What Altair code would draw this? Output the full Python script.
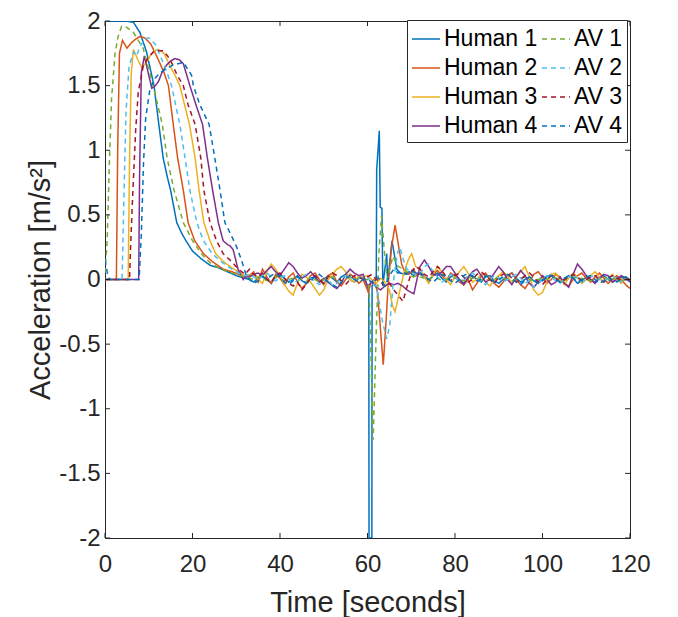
import altair as alt
import pandas as pd

# ---------------- data ----------------
X_TICKS = [0, 20, 40, 60, 80, 100, 120]
Y_TICKS = [-2, -1.5, -1, -0.5, 0, 0.5, 1, 1.5, 2]

T_N1 = list(range(33, 60))    # 33..59 s
T_N2 = list(range(72, 121))   # 72..120 s

# --- Human 1 ---
H1_lt = [0, 4.5, 6.5, 8, 9.5, 11.2, 12.3, 13.3, 14.2, 15.0, 16.4, 17.5, 18.5, 20, 22, 24, 26, 28, 30, 32]
H1_la = [2.0, 2.0, 1.99, 1.91, 1.76, 1.5, 1.2, 0.94, 0.8, 0.69, 0.44, 0.36, 0.3, 0.22, 0.16, 0.11, 0.09, 0.06, 0.03, 0.01]
H1_n1 = [0.0, -0.02, 0.01, 0.03, 0.0, -0.03, 0.02, 0.04, 0.01, -0.02, 0.0, 0.03, -0.01, -0.03, 0.01, 0.02, -0.02, 0.0, 0.03, 0.01, -0.02, 0.02, 0.04, 0.0, -0.02, 0.01, 0.02]
H1_dt = [60.0, 60.3, 60.35, 61.0, 61.05, 61.5, 62.0, 62.1, 62.7, 62.9, 63.3, 63.5, 64.4, 64.6, 65.6, 66.7, 67.5, 68.5, 69.5, 70.5, 71.2]
H1_da = [-0.05, -0.1, -2.0, -2.0, -0.05, -0.02, 0.0, 0.85, 1.15, 0.56, 0.55, -0.05, 0.2, -0.02, 0.3, 0.08, 0.05, 0.04, 0.06, 0.03, 0.05]
H1_n2 = [0.04, 0.02, 0.0, 0.03, 0.05, 0.01, -0.02, 0.02, 0.04, 0.0,
         -0.03, 0.01, 0.03, 0.0, -0.02, 0.02, 0.03, -0.01, -0.03, 0.0,
         0.03, 0.05, 0.01, -0.02, 0.0, 0.02, -0.01, -0.03, 0.0, 0.02,
         0.04, 0.01, -0.02, 0.0, 0.03, 0.01, -0.03, -0.01, 0.02, 0.0,
         -0.02, 0.01, 0.03, 0.0, -0.02, 0.01, 0.02, 0.0, -0.01]

# --- AV 1 ---
AV1_lt = [0, 0.5, 1.0, 1.5, 2.3, 3.0, 3.8, 5.0, 6.5, 8.7, 11.0, 13.1, 14.2, 15.8, 17.9, 20, 22, 24, 26, 28, 30, 32]
AV1_la = [0.05, 0.3, 0.9, 1.4, 1.75, 1.88, 1.96, 1.95, 1.91, 1.79, 1.5, 1.2, 0.94, 0.69, 0.44, 0.3, 0.2, 0.13, 0.09, 0.06, 0.04, 0.02]
AV1_n1 = [0.01, 0.0, 0.02, 0.01, -0.01, 0.0, 0.02, 0.01, -0.01, 0.0, 0.01, 0.02, 0.0, -0.01, 0.01, 0.0, -0.02, 0.0, 0.01, 0.02, 0.0, -0.01, 0.01, 0.02, 0.0, 0.01, 0.0]
AV1_dt = [60.0, 60.4, 61.3, 62.0, 62.6, 63.2, 63.9, 64.5, 65.8, 67.0, 68.5, 69.5, 70.5, 71.3]
AV1_da = [0.0, -0.1, -1.24, -0.4, 0.2, 0.49, 0.2, 0.0, 0.18, 0.1, 0.08, 0.04, 0.02, 0.03]
AV1_n2 = [0.02, 0.01, 0.0, 0.02, 0.01, -0.01, 0.0, 0.02, 0.01, 0.0,
          -0.01, 0.0, 0.01, 0.02, 0.0, -0.01, 0.01, 0.0, 0.02, 0.01,
          0.0, -0.01, 0.0, 0.01, 0.02, 0.0, -0.01, 0.0, 0.01, 0.0,
          0.02, 0.01, 0.0, -0.01, 0.01, 0.02, 0.0, 0.01, 0.0, -0.01,
          0.0, 0.01, 0.02, 0.0, 0.01, 0.0, -0.01, 0.0, 0.01]

# --- Human 2 ---
H2_lt = [0, 2.6, 2.9, 3.3, 4.0, 5.0, 6.0, 7.0, 8.0, 9.1, 10.5, 12.2, 13.5, 14.5, 15.6, 16.6, 17.9, 19.0, 20.5, 22.5, 24.5, 27, 29, 32]
H2_la = [0, 0, 1.0, 1.75, 1.85, 1.79, 1.83, 1.86, 1.88, 1.87, 1.82, 1.7, 1.6, 1.5, 1.2, 0.94, 0.69, 0.44, 0.3, 0.2, 0.14, 0.08, 0.06, 0.02]
H2_n1 = [0.03, 0.06, -0.02, 0.08, 0.02, -0.03, 0.04, 0.01, -0.04, 0.02, 0.05, -0.02, -0.07, -0.03, 0.03, 0.05, 0.0, -0.04, 0.03, 0.05, -0.02, -0.05, 0.0, 0.04, 0.02, -0.03, 0.0]
H2_dt = [60.2, 60.8, 61.5, 62.3, 63.0, 63.6, 64.2, 64.7, 65.5, 66.3, 67.0, 67.8, 68.5, 69.5, 70.5, 71.3]
H2_da = [-0.1, -0.02, 0.0, -0.1, -0.4, -0.66, -0.35, -0.05, 0.25, 0.42, 0.28, 0.12, 0.06, 0.04, 0.08, 0.03]
H2_n2 = [0.05, 0.02, -0.02, 0.04, 0.07, 0.03, -0.01, 0.05, 0.03, -0.02,
         -0.04, 0.0, -0.08, -0.03, 0.03, 0.05, 0.0, -0.03, -0.06, -0.02,
         0.03, 0.05, 0.0, -0.04, -0.07, -0.02, 0.04, 0.06, 0.02, -0.03,
         0.0, 0.04, 0.02, -0.03, -0.05, 0.0, 0.03, 0.05, 0.01, -0.02,
         0.02, 0.05, 0.01, -0.03, 0.0, 0.03, 0.0, -0.04, -0.07]

# --- AV 2 ---
AV2_lt = [0, 3.9, 4.3, 4.8, 5.5, 6.5, 7.2, 8.0, 9.0, 10.0, 11.5, 13.0, 14.2, 15.2, 17.1, 18.3, 19.4, 21.0, 22.5, 24.5, 26.5, 28.5, 30.5, 32]
AV2_la = [0, 0, 0.6, 1.3, 1.65, 1.76, 1.73, 1.8, 1.86, 1.87, 1.82, 1.7, 1.6, 1.5, 1.2, 0.94, 0.69, 0.44, 0.3, 0.2, 0.14, 0.09, 0.05, 0.03]
AV2_n1 = [0.04, 0.02, 0.0, 0.03, 0.05, 0.02, -0.01, 0.01, 0.03, 0.0, -0.03, -0.01, 0.02, 0.04, 0.01, -0.02, -0.04, -0.02, 0.01, -0.05, -0.03, 0.01, 0.03, 0.02, 0.0, 0.01, 0.02]
AV2_dt = [60.0, 61.0, 62.0, 62.8, 63.4, 64.4, 65.1, 65.8, 66.8, 67.4, 68.2, 69.0, 70.0, 71.0]
AV2_da = [0.02, -0.03, -0.05, -0.2, -0.32, -0.46, -0.35, -0.05, 0.2, 0.25, 0.15, 0.08, 0.06, 0.04]
AV2_n2 = [0.04, 0.1, 0.12, 0.06, 0.02, -0.02, 0.01, 0.04, 0.02, -0.01,
          0.0, 0.03, 0.05, 0.02, -0.02, -0.04, 0.0, 0.03, 0.01, -0.02,
          0.0, 0.02, 0.04, 0.01, -0.03, -0.01, -0.06, -0.03, 0.01, 0.03,
          0.02, -0.01, -0.03, 0.0, 0.02, 0.04, 0.01, -0.02, 0.0, 0.02,
          0.03, 0.0, -0.02, 0.01, 0.03, 0.0, -0.02, 0.01, 0.0]

# --- Human 3 ---
H3_lt = [0, 5.3, 5.6, 6.0, 6.5, 7.5, 8.4, 9.5, 10.5, 11.5, 12.2, 13.5, 14.9, 16.0, 17.1, 19.3, 20.6, 21.5, 22.6, 24, 25.3, 27, 29, 31, 32]
H3_la = [0, 0, 0.9, 1.6, 1.78, 1.7, 1.64, 1.68, 1.74, 1.77, 1.78, 1.75, 1.65, 1.58, 1.5, 1.2, 0.94, 0.69, 0.44, 0.3, 0.2, 0.14, 0.09, 0.05, 0.03]
H3_n1 = [0.02, 0.05, 0.0, -0.03, 0.06, 0.12, 0.08, 0.03, -0.04, -0.09, -0.12, -0.03, 0.04, 0.02, -0.02, -0.07, -0.12, -0.08, 0.0, 0.04, 0.08, 0.1, 0.06, 0.0, -0.02, 0.03, 0.02]
H3_dt = [60.0, 61.0, 62.0, 63.0, 64.0, 65.0, 65.7, 66.3, 67.3, 68.3, 69.3, 70.1, 71.0]
H3_da = [0.03, 0.0, -0.03, 0.01, -0.02, -0.08, -0.2, -0.25, -0.1, 0.05, 0.15, 0.2, 0.1]
H3_n2 = [0.08, 0.02, -0.03, 0.04, 0.1, 0.06, 0.0, -0.04, 0.02, 0.06,
         0.1, 0.05, -0.02, 0.0, 0.04, -0.02, -0.05, 0.0, 0.03, 0.06,
         0.03, -0.03, 0.02, 0.06, 0.1, 0.02, -0.08, -0.12, -0.1, -0.02,
         0.04, 0.05, 0.0, -0.04, 0.01, 0.05, 0.02, -0.03, 0.0, 0.03,
         0.06, 0.02, -0.02, 0.01, 0.04, 0.0, -0.03, 0.02, 0.0]

# --- AV 3 ---
AV3_lt = [0, 5.6, 5.8, 6.2, 7.0, 7.6, 8.8, 10, 11, 12, 13.3, 14.3, 15.2, 16.5, 17.9, 19, 20.6, 21.9, 22.6, 24, 25.5, 27, 28.6, 30.5, 32]
AV3_la = [0, 0, 0.2, 0.55, 1.15, 1.45, 1.66, 1.72, 1.76, 1.77, 1.77, 1.73, 1.68, 1.58, 1.5, 1.35, 1.2, 0.94, 0.69, 0.44, 0.3, 0.2, 0.15, 0.08, 0.04]
AV3_n1 = [0.08, 0.04, 0.02, 0.05, 0.0, -0.02, 0.03, 0.05, 0.01, -0.03, -0.05, -0.02, -0.08, -0.04, 0.01, 0.03, 0.0, -0.03, 0.02, 0.05, 0.03, -0.01, -0.04, 0.0, 0.03, 0.02, 0.0]
AV3_dt = [60.0, 61.0, 62.0, 63.0, 64.0, 65.0, 66.0, 67.0, 68.1, 69.0, 70.0, 71.0]
AV3_da = [0.02, 0.04, 0.0, -0.02, -0.05, -0.03, -0.08, -0.12, -0.17, -0.06, 0.05, 0.1]
AV3_n2 = [0.08, 0.04, 0.02, 0.06, 0.1, 0.07, 0.02, -0.01, 0.03, 0.05,
          0.02, -0.02, 0.0, 0.04, 0.06, 0.03, 0.0, -0.03, 0.02, 0.04,
          0.05, 0.01, -0.02, 0.0, 0.03, 0.05, 0.02, -0.02, -0.04, 0.0,
          0.03, 0.01, -0.02, 0.0, 0.02, 0.04, 0.02, -0.01, 0.0, 0.02,
          0.03, 0.0, -0.02, 0.01, 0.03, 0.01, -0.01, 0.0, 0.01]

# --- Human 4 ---
H4_lt = [0, 7.7, 7.9, 8.3, 9.0, 10.0, 10.7, 11.5, 12.2, 13, 14.1, 15, 16, 17, 17.9, 19.4, 21, 22.3, 23.4, 24.6, 25.9, 27, 28, 28.6, 29.3, 30.4, 31.6, 32]
H4_la = [0, 0, 0.8, 1.6, 1.73, 1.58, 1.48, 1.5, 1.53, 1.6, 1.66, 1.69, 1.71, 1.7, 1.67, 1.5, 1.33, 1.2, 0.94, 0.69, 0.44, 0.3, 0.27, 0.26, 0.23, 0.08, 0.0, 0.02]
H4_n1 = [0.02, 0.04, 0.05, 0.03, 0.07, 0.1, 0.06, 0.03, 0.08, 0.13, 0.1, 0.05, 0.01, 0.03, 0.06, 0.02, -0.02, 0.01, -0.02, -0.05, -0.07, -0.03, 0.04, 0.08, 0.05, 0.03, 0.04]
H4_dt = [60.0, 61.0, 62.0, 63.0, 64.0, 65.0, 66.0, 67.0, 68.0, 69.0, 70.0, 70.6, 71.3]
H4_da = [-0.05, -0.02, -0.06, -0.08, -0.05, -0.03, -0.04, -0.03, -0.05, -0.08, -0.1, -0.11, 0.0]
H4_n2 = [0.1, 0.15, 0.1, 0.04, 0.03, 0.06, 0.1, 0.1, 0.05, 0.0,
         -0.04, 0.02, 0.06, 0.08, 0.03, -0.02, 0.0, 0.05, 0.1, 0.06,
         0.0, -0.04, 0.02, 0.07, 0.03, -0.03, -0.06, -0.02, 0.03, 0.0,
         -0.04, -0.02, 0.02, -0.03, -0.06, 0.04, 0.12, 0.08, 0.03, 0.0,
         -0.03, 0.01, 0.04, 0.03, -0.02, 0.0, 0.03, 0.01, -0.02]

# --- AV 4 ---
AV4_lt = [0, 0.7, 1.2, 7.8, 8.3, 8.8, 9.3, 10.3, 11.5, 12.6, 14, 15.6, 17.9, 19.8, 20.2, 21.7, 23.8, 25.1, 26.3, 27.4, 28.6, 30.0, 31.2, 32.3]
AV4_la = [0.15, 0.02, 0.0, 0.0, 0.35, 0.9, 1.25, 1.48, 1.56, 1.6, 1.63, 1.66, 1.68, 1.58, 1.5, 1.35, 1.2, 0.94, 0.69, 0.44, 0.36, 0.26, 0.15, 0.03]
AV4_n1 = [0.0, -0.03, -0.01, 0.02, 0.0, 0.03, 0.05, 0.02, -0.02, -0.04, -0.01, 0.02, 0.0, -0.03, -0.01, 0.02, 0.04, 0.01, -0.02, -0.04, -0.06, -0.02, 0.01, 0.03, 0.0, -0.02, 0.0]
AV4_dt = [60.0, 61.0, 62.0, 63.0, 64.0, 65.0, 66.0, 67.0, 68.0, 69.0, 70.0, 71.0]
AV4_da = [0.0, -0.02, 0.02, 0.0, -0.05, 0.03, 0.08, 0.05, 0.06, 0.04, 0.07, 0.05]
AV4_n2 = [0.05, 0.03, 0.0, -0.02, 0.01, 0.04, 0.02, -0.01, -0.03, 0.0,
          0.03, 0.05, 0.02, -0.01, 0.0, 0.03, 0.01, -0.02, 0.0, 0.02,
          0.04, 0.01, -0.02, -0.04, -0.01, 0.02, 0.0, -0.03, -0.01, 0.02,
          0.03, 0.0, -0.02, 0.01, 0.03, 0.01, -0.02, 0.0, 0.02, 0.03,
          0.0, -0.03, -0.01, 0.02, 0.0, -0.02, 0.01, 0.02, 0.0]

SERIES = {
    "Human 1": (H1_lt, H1_la, H1_n1, H1_dt, H1_da, H1_n2),
    "Human 2": (H2_lt, H2_la, H2_n1, H2_dt, H2_da, H2_n2),
    "Human 3": (H3_lt, H3_la, H3_n1, H3_dt, H3_da, H3_n2),
    "Human 4": (H4_lt, H4_la, H4_n1, H4_dt, H4_da, H4_n2),
    "AV 1": (AV1_lt, AV1_la, AV1_n1, AV1_dt, AV1_da, AV1_n2),
    "AV 2": (AV2_lt, AV2_la, AV2_n1, AV2_dt, AV2_da, AV2_n2),
    "AV 3": (AV3_lt, AV3_la, AV3_n1, AV3_dt, AV3_da, AV3_n2),
    "AV 4": (AV4_lt, AV4_la, AV4_n1, AV4_dt, AV4_da, AV4_n2),
}

# legend is filled column by column: Human 1-4 in the first column, AV 1-4 in the second
LEGEND_ORDER = ["Human 1", "Human 2", "Human 3", "Human 4", "AV 1", "AV 2", "AV 3", "AV 4"]
COLORS = ["#0072BD", "#D95319", "#EDB120", "#7E2F8E", "#77AC30", "#4DBEEE", "#A2142F", "#0072BD"]
DASHES = [[1, 0], [1, 0], [1, 0], [1, 0], [5, 4], [5, 4], [5, 4], [5, 4]]

rows = []
for name, (lt, la, n1, dt, da, n2) in SERIES.items():
    ts = list(lt) + T_N1 + list(dt) + T_N2
    vs = list(la) + list(n1) + list(da) + list(n2)
    for i, (t, v) in enumerate(zip(ts, vs)):
        rows.append({"series": name, "t": t, "a": v, "i": i})
df = pd.DataFrame(rows)

W, H = 525, 517
FONT = "Liberation Sans"
AX = "#262626"

legend = alt.Legend(
    title=None, orient="none", legendX=302, legendY=-1, columns=2, direction="vertical",
    symbolType="stroke", symbolSize=784, symbolStrokeWidth=1.5,
    labelFont=FONT, labelFontSize=23, labelColor="#000000", labelOffset=3,
    rowPadding=2, columnPadding=1, padding=4,
    strokeColor=AX, fillColor="white",
)

xscale = alt.Scale(domain=[0, 120], nice=False, zero=False)
yscale = alt.Scale(domain=[-2, 2], nice=False, zero=False)

X_AXIS = alt.Axis(values=X_TICKS, title="Time [seconds]", labelExpr="'' + datum.value",
                  labelFlush=False, titleX=W / 2, titleY=73, titleBaseline="alphabetic",
                  labelPadding=14)
Y_AXIS = alt.Axis(values=Y_TICKS, title="Acceleration [m/s²]", labelExpr="'' + datum.value",
                  labelFlush=False, titleX=-56, titleY=H / 2, titleAngle=270,
                  titleBaseline="alphabetic", labelPadding=5)

lines = alt.Chart(df).mark_line(strokeWidth=1.5, clip=True).encode(
    x=alt.X("t:Q", scale=xscale, axis=X_AXIS),
    y=alt.Y("a:Q", scale=yscale, axis=Y_AXIS),
    color=alt.Color("series:N", scale=alt.Scale(domain=LEGEND_ORDER, range=COLORS), legend=legend),
    strokeDash=alt.StrokeDash("series:N", scale=alt.Scale(domain=LEGEND_ORDER, range=DASHES), legend=legend),
    order="i:Q",
)

xt = pd.DataFrame({"t": X_TICKS})
yt = pd.DataFrame({"a": Y_TICKS})
tick_style = dict(color=AX, strokeWidth=1)
xb = alt.Chart(xt).mark_rule(**tick_style).encode(
    x=alt.X("t:Q", scale=xscale, axis=X_AXIS), y=alt.value(H), y2=alt.value(H - 5))
xtop = alt.Chart(xt).mark_rule(**tick_style).encode(
    x=alt.X("t:Q", scale=xscale, axis=X_AXIS), y=alt.value(0), y2=alt.value(5))
yl = alt.Chart(yt).mark_rule(**tick_style).encode(
    y=alt.Y("a:Q", scale=yscale, axis=Y_AXIS), x=alt.value(0), x2=alt.value(5))
yr = alt.Chart(yt).mark_rule(**tick_style).encode(
    y=alt.Y("a:Q", scale=yscale, axis=Y_AXIS), x=alt.value(W), x2=alt.value(W - 5))

chart = alt.layer(lines, xb, xtop, yl, yr).properties(
    width=W, height=H,
    autosize=alt.AutoSizeParams(type="none"),
    padding={"left": 97, "top": 13, "right": 40, "bottom": 80},
).configure_view(
    stroke=AX, strokeWidth=1,
).configure_axis(
    labelFont=FONT, labelFontSize=24, labelColor=AX,
    titleFont=FONT, titleFontSize=29, titleFontWeight="normal", titleColor=AX,
    ticks=False, domain=False, grid=False,
)

chart.save("out.html", embed_options={"renderer": "svg", "actions": False})
